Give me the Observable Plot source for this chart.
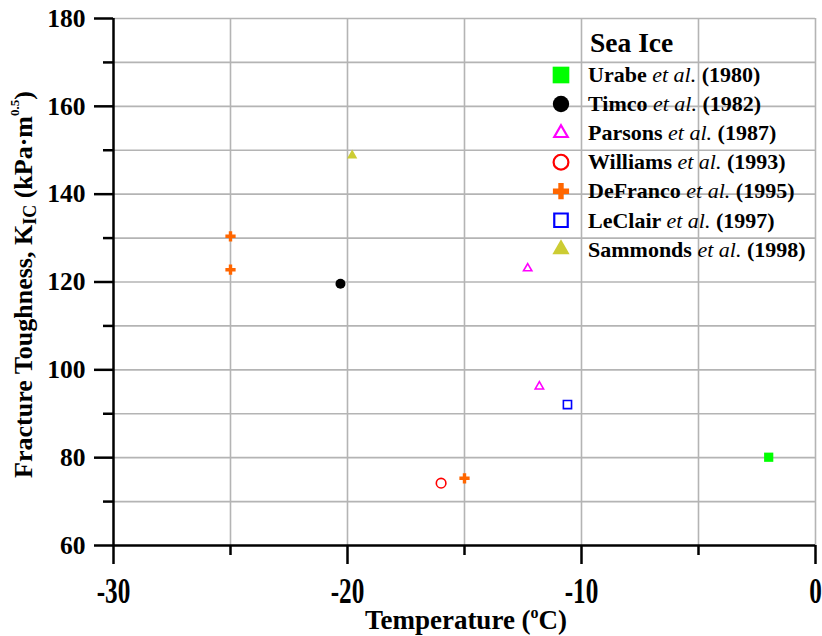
<!DOCTYPE html>
<html>
<head>
<meta charset="utf-8">
<script src="https://cdn.jsdelivr.net/npm/d3@7"></script>
<script src="https://cdn.jsdelivr.net/npm/@observablehq/plot@0.6"></script>
<style>
  html, body { margin: 0; padding: 0; background: #fff; }
  svg { display: block; }
</style>
</head>
<body>
<div id="chart"></div>
<script>
// ---- data ----
const studyNames = ["Urabe", "Timco", "Parsons", "Williams", "DeFranco", "LeClair", "Sammonds"];
const studyYears = ["1980", "1982", "1987", "1993", "1995", "1997", "1998"];
const legendTitle = "Sea Ice";

const pointStudy = ["Urabe", "Timco", "Parsons", "Parsons", "Williams", "DeFranco", "DeFranco", "DeFranco", "LeClair", "Sammonds"];
const pointTemp  = [-2.0, -20.3, -12.3, -11.8, -16.0, -25.0, -25.0, -15.0, -10.6, -19.8];
const pointK     = [80.1, 119.6, 123.1, 96.2, 74.2, 130.4, 122.8, 75.3, 92.1, 148.8];

const xMajorTicks = [-30, -20, -10, 0];
const xMinorTicks = [-25, -15, -5];
const xGridTicks  = [-25, -20, -15, -10, -5, 0];
const yMajorTicks = [60, 80, 100, 120, 140, 160, 180];
const yMinorTicks = [70, 90, 110, 130, 150, 170];
const yGridTicks  = [70, 80, 90, 100, 110, 120, 130, 140, 150, 160, 170, 180];

// ---- styles ----
const studyColors  = ["#00ff00", "#000000", "#ff00ff", "#ff0000", "#ff6600", "#0000ff", "#cccc33"];
const studySymbols = ["square", "circle", "triangle", "circle", "cross", "square", "triangle"];
const studyFilled  = [true, true, false, false, true, false, true];
const plotRadius   = [5.2, 5.0, 3.1, 4.8, 4.3, 4.6, 3.8];
const legendRadius = [9.4, 8.2, 5.0, 7.4, 6.8, 7.6, 6.4];

const FONT = "'Liberation Serif', 'Times New Roman', Times, serif";
const W = 822, H = 636;
const M = {left: 113, right: 7, top: 18, bottom: 91};
const gridColor = "#b4b4b4";

const points = pointTemp.map((t, i) => ({study: pointStudy[i], temp: t, k: pointK[i]}));

const dotMarks = studyNames.map((s, i) =>
  Plot.dot(points.filter(d => d.study === s), {
    x: "temp", y: "k",
    symbol: studySymbols[i],
    r: plotRadius[i],
    fill: studyFilled[i] ? studyColors[i] : "none",
    stroke: studyFilled[i] ? "none" : studyColors[i],
    strokeWidth: studyFilled[i] ? 0 : 1.6
  })
);

const plot = Plot.plot({
  width: W, height: H,
  marginLeft: M.left, marginRight: M.right, marginTop: M.top, marginBottom: M.bottom,
  style: {fontFamily: FONT, background: "#fff", color: "#000", overflow: "visible"},
  x: {domain: [-30, 0]},
  y: {domain: [60, 180]},
  marks: [
    Plot.gridX(xGridTicks, {stroke: gridColor, strokeOpacity: 1, strokeWidth: 1.6}),
    Plot.gridY(yGridTicks, {stroke: gridColor, strokeOpacity: 1, strokeWidth: 1.6}),
    Plot.axisX(xMinorTicks, {tickSize: 10, strokeWidth: 2.5, tickFormat: () => "", label: null}),
    Plot.axisX(xMajorTicks, {tickSize: 19, tickPadding: 14, strokeWidth: 2.5, fontSize: 26, fontWeight: "bold",
                             tickFormat: d => String(d), label: null}),
    Plot.axisY(yMinorTicks, {tickSize: 10, strokeWidth: 2.5, tickFormat: () => "", label: null}),
    Plot.axisY(yMajorTicks, {tickSize: 19, tickPadding: 9, strokeWidth: 2.5, fontSize: 25.5, fontWeight: "bold",
                             tickFormat: d => String(d), label: null}),
    Plot.ruleX([-30], {stroke: "#000", strokeWidth: 2.5}),
    Plot.ruleY([60], {stroke: "#000", strokeWidth: 2.5}),
    ...dotMarks
  ]
});

document.getElementById("chart").appendChild(plot);

// ---- post-processing: stretched x tick labels, axis titles, legend ----
const svg = d3.select(plot);

svg.selectAll('g[aria-label="x-axis tick label"] text').each(function() {
  const t = this.getAttribute("transform");
  if (t) {
    this.setAttribute("transform", t + " scale(0.97,1.34)");
  } else {
    const x = this.getAttribute("x") || 0, y = this.getAttribute("y") || 0;
    this.removeAttribute("x"); this.removeAttribute("y");
    this.setAttribute("transform", `translate(${x},${y}) scale(0.97,1.34)`);
  }
});

// x title
const xt = svg.append("text")
  .attr("x", (M.left + W - M.right) / 2 + 2)
  .attr("y", 629)
  .attr("text-anchor", "middle")
  .attr("font-family", FONT).attr("font-weight", "bold").attr("font-size", 27)
  .attr("fill", "#000");
xt.append("tspan").text("Temperature (");
xt.append("tspan").attr("font-size", 16).attr("dy", -11).text("o");
xt.append("tspan").attr("dy", 11).text("C)");

// y title
const yt = svg.append("text")
  .attr("transform", `translate(32,${(M.top + H - M.bottom) / 2 + 3}) rotate(-90)`)
  .attr("text-anchor", "middle")
  .attr("font-family", FONT).attr("font-weight", "bold").attr("font-size", 26)
  .attr("fill", "#000");
yt.append("tspan").text("Fracture Toughness, K");
yt.append("tspan").attr("font-size", 18).attr("dy", 4).text("IC");
yt.append("tspan").attr("dy", -4).text(" (kPa·m");
yt.append("tspan").attr("font-size", 13).attr("dy", -13).text("0.5");
yt.append("tspan").attr("dy", 13).text(")");

// legend
const lg = svg.append("g").attr("font-family", FONT).attr("fill", "#000").attr("text-anchor", "start");
lg.append("text").attr("x", 590).attr("y", 52).attr("text-anchor", "start")
  .attr("font-weight", "bold").attr("font-size", 27.5).text(legendTitle);
const symMap = {square: d3.symbolSquare, circle: d3.symbolCircle, triangle: d3.symbolTriangle, cross: d3.symbolCross};
studyNames.forEach((s, i) => {
  const cy = 75 + 29.05 * i;
  lg.append("path")
    .attr("transform", `translate(561,${cy})`)
    .attr("d", d3.symbol(symMap[studySymbols[i]], Math.PI * legendRadius[i] ** 2)())
    .attr("fill", studyFilled[i] ? studyColors[i] : "none")
    .attr("stroke", studyFilled[i] ? "none" : studyColors[i])
    .attr("stroke-width", studyFilled[i] ? 0 : 2.2);
  const t = lg.append("text").attr("x", 588).attr("y", cy).attr("dy", "0.33em")
    .attr("text-anchor", "start")
    .attr("font-size", 22).attr("font-weight", "bold");
  t.append("tspan").text(s + " ");
  t.append("tspan").attr("font-style", "italic").attr("font-weight", "normal").text("et al.");
  t.append("tspan").text(" (" + studyYears[i] + ")");
});
</script>
</body>
</html>
